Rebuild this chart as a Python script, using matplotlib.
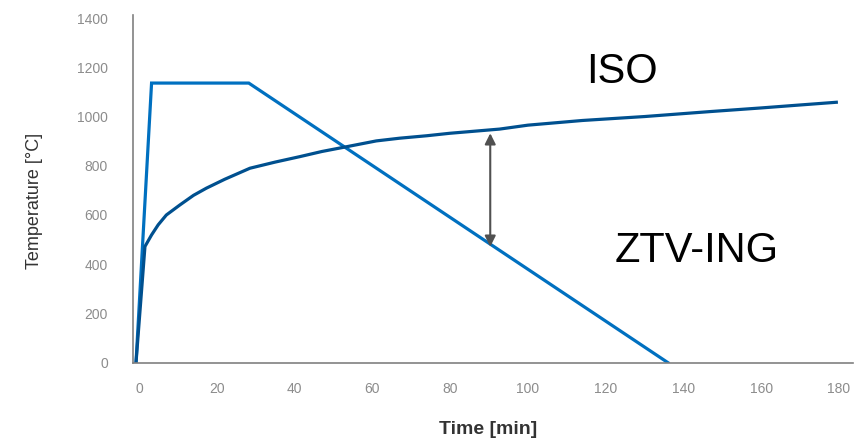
import matplotlib
matplotlib.use('Agg')
import matplotlib.pyplot as plt

# ZTV-ING tunnel fire curve
ztv_time = [-0.8, 3.2, 28.2, 136]
ztv_temp = [0, 1136, 1136, 0]

# ISO curve
iso_time = [-0.8, 1.5, 3.2, 4.9, 7, 10.5, 14, 17.3, 22, 28.5, 35, 41.3, 47, 52.9,
            61, 67, 74, 79.9, 92.7, 100, 114, 130, 146.7, 160, 170, 179.3]
iso_temp = [0, 472, 519, 560, 600, 641, 680, 709, 745, 790, 815, 837, 858, 876,
            901, 912, 922, 932, 949, 965, 984, 1000, 1020, 1035, 1047, 1058]

arrow_t = 90.3
arrow_top = 932
arrow_bottom = 471

xticks = [0, 20, 40, 60, 80, 100, 120, 140, 160, 180]
yticks = [0, 200, 400, 600, 800, 1000, 1200, 1400]

fig = plt.figure(figsize=(8.63, 4.38), dpi=100)
ax = fig.add_axes([0.154, 0.172, 0.834, 0.794])

ax.plot(ztv_time, ztv_temp, color='#0070c0', lw=2.3, solid_joinstyle='miter')
ax.plot(iso_time, iso_temp, color='#00508f', lw=2.3)

ax.annotate('', xy=(arrow_t, arrow_bottom), xytext=(arrow_t, arrow_top),
            arrowprops=dict(arrowstyle='<|-|>', color='#505050', lw=1.5,
                            mutation_scale=16, shrinkA=0, shrinkB=0))

ax.text(0.679, 0.836, 'ISO', transform=ax.transAxes, fontsize=30,
        family='Liberation Sans', ha='center', va='center')
ax.text(0.783, 0.321, 'ZTV-ING', transform=ax.transAxes, fontsize=30,
        family='Liberation Sans', ha='center', va='center')

ax.set_xlim(-1.6, 183.5)
ax.set_ylim(0, 1413)
ax.set_xticks(xticks)
ax.set_yticks(yticks)
ax.tick_params(length=0, labelsize=10, labelcolor='#8c8c8c')
ax.tick_params(axis='x', pad=14)
ax.tick_params(axis='y', pad=18)
for lab in ax.get_xticklabels() + ax.get_yticklabels():
    lab.set_family('Liberation Sans')

for s in ['top', 'right']:
    ax.spines[s].set_visible(False)
for s in ['left', 'bottom']:
    ax.spines[s].set_color('#808080')
    ax.spines[s].set_linewidth(1.2)

ax.set_xlabel('Time [min]', fontsize=14, family='Liberation Sans',
              fontweight='bold', color='#333333')
ax.xaxis.set_label_coords(0.494, -0.168)
ax.set_ylabel('Temperature [°C]', fontsize=13, family='Liberation Sans',
              color='#333333')
ax.yaxis.set_label_coords(-0.125, 0.465)

plt.savefig('out.png', dpi=100)
